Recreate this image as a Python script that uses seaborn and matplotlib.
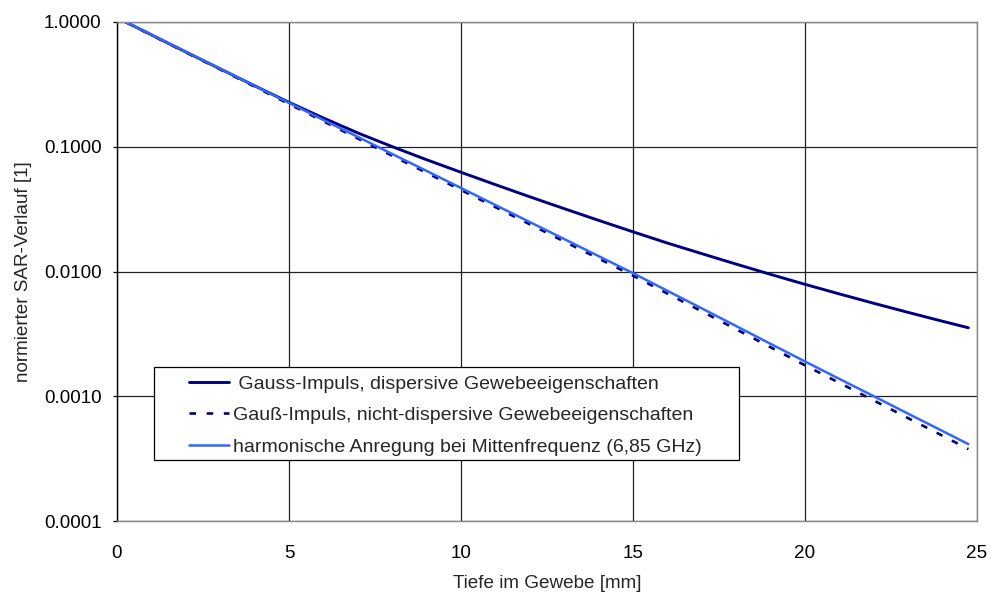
import matplotlib
matplotlib.use("Agg")
import matplotlib.pyplot as plt
import matplotlib.ticker as mticker
from matplotlib.patches import Rectangle
import seaborn as sns
import pandas as pd

depth_mm = [0.25, 1, 2, 3, 4, 5, 6, 7, 8, 9, 10, 11, 12, 13, 14, 15,
            16, 17, 18, 19, 20, 21, 22, 23, 24, 24.75]
sar_dispersive = [1.0, 0.789, 0.575, 0.421, 0.308, 0.227, 0.170, 0.129, 0.1002, 0.0787,
                  0.0624, 0.0497, 0.0397, 0.0319, 0.0257, 0.0208, 0.0169, 0.0139,
                  0.01146, 0.00948, 0.00789, 0.00661, 0.00556, 0.00470, 0.00399, 0.00354]
sar_nondispersive = [1.0, 0.785, 0.571, 0.416, 0.303, 0.220, 0.160, 0.1164, 0.0847, 0.0618,
                     0.0450, 0.0328, 0.0239, 0.0174, 0.0127, 0.00927, 0.00665, 0.00479,
                     0.00344, 0.00247, 0.00177, 0.00128, 0.000925, 0.000667, 0.000482, 0.000377]
sar_harmonic = [1.0, 0.790, 0.577, 0.421, 0.308, 0.225, 0.164, 0.120, 0.0875, 0.0640,
                0.0467, 0.0341, 0.0249, 0.0182, 0.01328, 0.0097, 0.0070, 0.00506,
                0.00365, 0.00263, 0.0019, 0.001377, 0.0010, 0.000724, 0.000526, 0.000413]

labels = [" Gauss-Impuls, dispersive Gewebeeigenschaften",
          "Gauß-Impuls, nicht-dispersive Gewebeeigenschaften",
          "harmonische Anregung bei Mittenfrequenz (6,85 GHz)"]
x_ticks = [0, 5, 10, 15, 20, 25]
y_ticks = [0.0001, 0.001, 0.01, 0.1, 1.0]
x_label = "Tiefe im Gewebe [mm]"
y_label = "normierter SAR-Verlauf [1]"

sns.set_style("white")
plt.rcParams['font.family'] = ['Liberation Sans', 'DejaVu Sans']

fig = plt.figure(figsize=(9.92, 5.95), dpi=100)
ax = fig.add_axes([117/992, 1 - 521/595, 860/992, 499/595])

navy = "#000080"
light = "#3366ff"

df1 = pd.DataFrame({"x": depth_mm, "y": sar_dispersive})
df2 = pd.DataFrame({"x": depth_mm, "y": sar_nondispersive})
df3 = pd.DataFrame({"x": depth_mm, "y": sar_harmonic})

sns.lineplot(data=df1, x="x", y="y", ax=ax, color=navy, lw=2.1, label=labels[0])
sns.lineplot(data=df2, x="x", y="y", ax=ax, color=navy, lw=1.9, label=labels[1])
ax.lines[-1].set_dashes((2.5, 4.0))
sns.lineplot(data=df3, x="x", y="y", ax=ax, color=light, lw=1.8, label=labels[2])

ax.set_yscale("log")
ax.set_xlim(0, 25)
ax.set_ylim(0.0001, 1.0)
ax.set_xticks(x_ticks)
ax.set_yticks(y_ticks)
ax.yaxis.set_major_formatter(mticker.FormatStrFormatter("%.4f"))
ax.xaxis.set_major_formatter(mticker.FormatStrFormatter("%d"))
ax.yaxis.set_minor_locator(mticker.NullLocator())
ax.grid(True, which="major", color="#222222", lw=0.9)
ax.set_axisbelow(True)

fs = 13.6
ax.tick_params(axis="x", length=0, pad=17, labelsize=fs, colors="black")
ax.tick_params(axis="y", length=3, width=0.9, direction="out", pad=8,
               labelsize=fs, colors="black", left=True)
ax.set_xlabel(x_label, fontsize=fs, labelpad=10)
ax.set_ylabel(y_label, fontsize=fs, labelpad=9)

for s in ["top", "right", "bottom"]:
    ax.spines[s].set_color("#888888")
    ax.spines[s].set_linewidth(1.0)
ax.spines["left"].set_color("black")
ax.spines["left"].set_linewidth(1.0)

leg = ax.legend(loc="upper left", bbox_to_anchor=((189 - 117) / 860, (521 - 375) / 499),
                frameon=False, borderpad=0, borderaxespad=0, fontsize=14,
                handlelength=2.06, handletextpad=0.2, labelspacing=0.72)
leg.set_zorder(5)
ax.add_patch(Rectangle(((154 - 117) / 860, (521 - 460) / 499),
                       (739 - 154) / 860, (460 - 367) / 499,
                       transform=ax.transAxes, facecolor="white",
                       edgecolor="black", lw=0.9, zorder=4))

fig.savefig("out.png", dpi=100)
